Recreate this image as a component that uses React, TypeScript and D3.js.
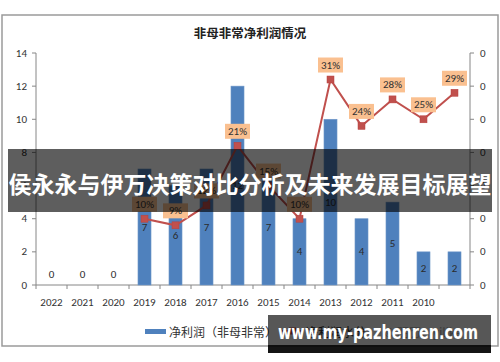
import * as d3 from "d3";

const CATEGORIES = ["2022", "2021", "2020", "2019", "2018", "2017", "2016", "2015", "2014", "2013", "2012", "2011", "2010", ""];
const PROFIT = [0, 0, 0, 7, 6, 7, 12, 7, 4, 10, 4, 5, 2, 2];
const WATER = [null, null, null, 0.1, 0.09, 0.12, 0.21, 0.15, 0.1, 0.31, 0.24, 0.28, 0.25, 0.29];
const LEFT_TICKS = [0, 2, 4, 6, 8, 10, 12, 14];
const RIGHT_TICKS = [0, 0.05, 0.1, 0.15, 0.2, 0.25, 0.3, 0.35];

const TITLE = "非母非常净利润情况";
const BANNER = "侯永永与伊万决策对比分析及未来发展目标展望";
const SITE = "www.my-pazhenren.com";

const BLUE = "#4f81bd";
const RED = "#c0504d";
const AXIS = "#868686";
const LATIN = "Carlito, Lato, sans-serif";
const CJK = "'Noto Sans CJK SC', sans-serif";

export default function App() {
  const plot = { left: 36, right: 470, top: 53, bottom: 285 };

  const x = d3.scaleBand<string>().domain(CATEGORIES).range([plot.left, plot.right]).padding(0);
  const yL = d3.scaleLinear().domain([0, 14]).range([plot.bottom, plot.top]);
  const yR = d3.scaleLinear().domain([0, 0.35]).range([plot.bottom, plot.top]);
  const barW = x.bandwidth() * 0.42;
  const cx = (i: number) => (x(CATEGORIES[i]) ?? 0) + x.bandwidth() / 2;

  const pts = WATER.map((v, i) => ({ v, i })).filter(d => d.v != null) as { v: number; i: number }[];
  const line = d3.line<{ v: number; i: number }>().x(d => cx(d.i)).y(d => yR(d.v));
  const pct = d3.format(".0%");

  return (
    <svg width={500} height={362} style={{ position: "absolute", left: 0, top: 0, background: "#fff" }}>
      <rect x={2} y={15} width={496} height={331} fill="#fff" stroke="#9a9a9a" strokeWidth={1.5} />
      <text x={250} y={32} textAnchor="middle" dominantBaseline="central" fontFamily={CJK} fontSize={12.5} fontWeight={600} fill="#222">{TITLE}</text>

      {/* left axis */}
      <line x1={plot.left} x2={plot.left} y1={plot.top} y2={plot.bottom} stroke={AXIS} />
      {LEFT_TICKS.map(t => (
        <g key={"l" + t}>
          <line x1={plot.left - 4} x2={plot.left} y1={yL(t)} y2={yL(t)} stroke={AXIS} />
          <text x={27} y={yL(t)} textAnchor="end" dominantBaseline="central" fontFamily={LATIN} fontSize={11} fill="#333">{t}</text>
        </g>
      ))}

      {/* right axis */}
      <line x1={plot.right} x2={plot.right} y1={plot.top} y2={plot.bottom} stroke={AXIS} />
      {RIGHT_TICKS.map(t => (
        <g key={"r" + t}>
          <line x1={plot.right} x2={plot.right + 4} y1={yR(t)} y2={yR(t)} stroke={AXIS} />
          <text x={480} y={yR(t)} dominantBaseline="central" fontFamily={LATIN} fontSize={11} fill="#333">{d3.format(".0f")(t)}</text>
        </g>
      ))}

      {/* bottom axis */}
      <line x1={plot.left} x2={plot.right} y1={plot.bottom} y2={plot.bottom} stroke={AXIS} />
      {CATEGORIES.map((c, i) => (
        <g key={"x" + i}>
          <line x1={(x(c) ?? 0) + x.bandwidth()} x2={(x(c) ?? 0) + x.bandwidth()} y1={plot.bottom} y2={plot.bottom + 4} stroke={AXIS} />
          <text x={cx(i)} y={302} textAnchor="middle" dominantBaseline="central" fontFamily={LATIN} fontSize={11} fill="#333">{c}</text>
        </g>
      ))}
      <line x1={plot.left} x2={plot.left} y1={plot.bottom} y2={plot.bottom + 4} stroke={AXIS} />

      {/* bars */}
      {PROFIT.map((v, i) => (
        <g key={"b" + i}>
          {v > 0 && <rect x={cx(i) - barW / 2} y={yL(v)} width={barW} height={yL(0) - yL(v)} fill={BLUE} stroke="#6f97c9" strokeWidth={0.6} />}
          <text x={cx(i)} y={v > 0 ? (yL(v) + yL(0)) / 2 : yL(0) - 11} textAnchor="middle" dominantBaseline="central" fontFamily={LATIN} fontSize={11} fill="#2b2b2b">{v}</text>
        </g>
      ))}

      {/* line */}
      <path d={line(pts) ?? ""} fill="none" stroke={RED} strokeWidth={2} />
      {pts.map(d => (
        <rect key={"m" + d.i} x={cx(d.i) - 3.5} y={yR(d.v) - 3.5} width={7} height={7} fill={RED} stroke="#b9413e" strokeWidth={0.5} />
      ))}
      {pts.map(d => (
        <g key={"lb" + d.i}>
          <rect x={cx(d.i) - 12.5} y={yR(d.v) - 22} width={25} height={15} fill="#fac090" />
          <text x={cx(d.i)} y={yR(d.v) - 14.5} textAnchor="middle" dominantBaseline="central" fontFamily={LATIN} fontSize={11} fill="#333">{pct(d.v)}</text>
        </g>
      ))}

      {/* legend */}
      <rect x={145} y={329} width={21} height={5} fill={BLUE} />
      <text x={169} y={331} dominantBaseline="central" fontFamily={CJK} fontSize={12} fill="#333">净利润（非母非常）</text>
      <line x1={282} x2={303} y1={331} y2={331} stroke={RED} strokeWidth={2} />
      <rect x={289} y={327.5} width={7} height={7} fill={RED} />
      <text x={306} y={331} dominantBaseline="central" fontFamily={CJK} fontSize={12} fill="#333">净利润水分</text>
      <text x={384} y={331} dominantBaseline="central" fontFamily={CJK} fontSize={12} fill="#b0b0b0">© 明历：yilike</text>

      {/* overlay banners */}
      <rect x={8} y={149} width={484} height={63} fill="#000" fillOpacity={0.63} />
      <text x={250} y={183} textAnchor="middle" dominantBaseline="central" fontFamily={CJK} fontSize={23} fontWeight={700} fill="#fff">{BANNER}</text>

      <rect x={268} y={315} width={223} height={30} fill="#000" fillOpacity={0.66} />
      <rect x={268} y={345} width={223} height={8} fill="#000" fillOpacity={0.92} />
      <text x={378} y={339} textAnchor="middle" fontFamily="'DejaVu Sans', sans-serif" fontSize={20} fontWeight={700} fill="#fff" textLength={200} lengthAdjust="spacingAndGlyphs">{SITE}</text>
    </svg>
  );
}
